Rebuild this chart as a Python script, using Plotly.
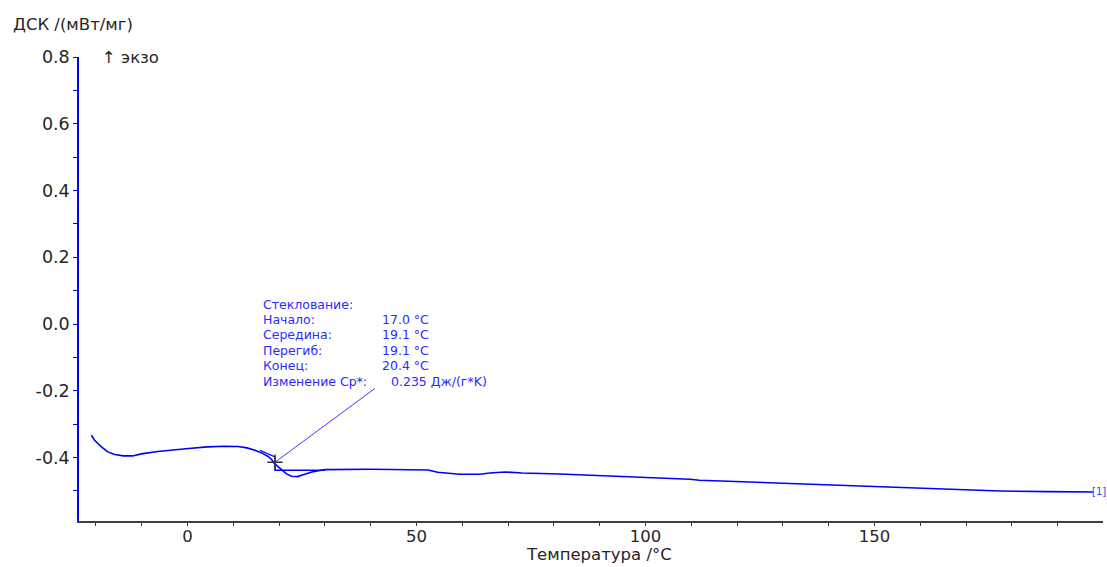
import plotly.graph_objects as go

# ---- data ----
temperature = [-21.0, -20.3, -18.8, -17.4, -15.9, -14.0, -12.0, -10.1, -6.5, -2.8, 0.8, 4.4,
               8.0, 11.0, 13.0, 14.7, 16.2, 17.5, 18.3, 19.0, 19.8, 20.5, 21.6, 22.7,
               24.0, 25.6, 27.5, 29.2, 30.0, 40.0, 50.0, 52.5, 54.6, 57.0, 59.4, 63.8,
               66.0, 69.3, 73.0, 81.3, 87.2, 92.8, 100.9, 109.7, 111.8, 124.3, 137.0,
               147.9, 157.7, 166.5, 177.4, 188.0, 197.7]
dsc = [-0.333, -0.348, -0.368, -0.383, -0.391, -0.395, -0.395, -0.389, -0.382, -0.376,
       -0.372, -0.368, -0.366, -0.367, -0.371, -0.378, -0.386, -0.396, -0.405, -0.418,
       -0.428, -0.438, -0.449, -0.456, -0.457, -0.450, -0.442, -0.438, -0.436, -0.435,
       -0.435, -0.437, -0.444, -0.448, -0.450, -0.450, -0.446, -0.443, -0.446, -0.449,
       -0.452, -0.456, -0.460, -0.465, -0.468, -0.474, -0.481, -0.485, -0.490, -0.496,
       -0.500, -0.502, -0.503]

# glass transition evaluation
tg_onset, tg_mid, tg_inflection, tg_end, delta_cp = 17.0, 19.1, 19.1, 20.4, 0.235
tg_point_dsc = -0.414
tangent_x = [15.8, 19.1, 19.1, 30.0]
tangent_y = [-0.378, -0.398, -0.438, -0.438]
leader_end = (40.9, -0.193)

label_lines = ["Стеклование:", "Начало:", "Середина:", "Перегиб:", "Конец:", "Изменение Cp*:"]
value_lines = ["", f"{tg_onset:.1f} °C", f"{tg_mid:.1f} °C", f"{tg_inflection:.1f} °C",
               f"{tg_end:.1f} °C", f"{delta_cp:.3f} Дж/(г*K)"]

x_tick_vals = [0, 50, 100, 150]
x_tick_text = ["0", "50", "100", "150"]
y_tick_vals = [-0.4, -0.2, 0.0, 0.2, 0.4, 0.6, 0.8]
y_tick_text = ["-0.4", "-0.2", "0.0", "0.2", "0.4", "0.6", "0.8"]

BLUE = "#0000ff"
TXT_BLUE = "#2b2bff"
DARK = "#262626"
FONT = "DejaVu Sans, Verdana, sans-serif"

fig = go.Figure()

fig.add_trace(go.Scatter(x=temperature, y=dsc, mode="lines",
                         line=dict(color=BLUE, width=1.6), hoverinfo="skip"))
# tangent construction
fig.add_trace(go.Scatter(x=tangent_x, y=tangent_y, mode="lines",
                         line=dict(color=BLUE, width=1.3), hoverinfo="skip"))
# leader line
fig.add_trace(go.Scatter(x=[tg_mid, leader_end[0]], y=[tg_point_dsc, leader_end[1]], mode="lines",
                         line=dict(color="#3a3aff", width=1), hoverinfo="skip"))
# cross marker
fig.add_trace(go.Scatter(x=[tg_mid], y=[tg_point_dsc], mode="markers",
                         marker=dict(symbol="cross-thin", size=11,
                                     line=dict(color="#333333", width=1.5)),
                         hoverinfo="skip"))

annotations = []
text_top = 0.060
text_step = 0.0462
for i, (lab, val) in enumerate(zip(label_lines, value_lines)):
    yv = text_top - i * text_step
    annotations.append(dict(x=16.0, y=yv, xref="x", yref="y", text=lab, showarrow=False,
                            xanchor="left", yanchor="middle",
                            font=dict(family=FONT, size=12.5, color=TXT_BLUE)))
    if val:
        annotations.append(dict(x=44.0 if i == len(label_lines) - 1 else 42.1, y=yv,
                                xref="x", yref="y", text=val, showarrow=False,
                                xanchor="left", yanchor="middle",
                                font=dict(family=FONT, size=12.5, color=TXT_BLUE)))

annotations.append(dict(x=temperature[-1], y=dsc[-1], xref="x", yref="y", text="[1]",
                        showarrow=False, xanchor="left", yanchor="middle", xshift=-3,
                        font=dict(family=FONT, size=10, color="#4040ff")))
annotations.append(dict(x=-0.066, y=1.069, xref="paper", yref="paper", text="ДСК /(мВт/мг)",
                        showarrow=False, xanchor="left", yanchor="middle",
                        font=dict(family=FONT, size=16.5, color=DARK)))
annotations.append(dict(x=0.0205, y=1.0, xref="paper", yref="paper", text="↑ экзо",
                        showarrow=False, xanchor="left", yanchor="middle",
                        font=dict(family=FONT, size=16.5, color=DARK)))
annotations.append(dict(x=0.508, y=-0.097, xref="paper", yref="paper", text="Температура /°C",
                        showarrow=False, xanchor="center", yanchor="bottom",
                        font=dict(family=FONT, size=16.5, color=DARK)))

fig.update_layout(
    width=1107, height=567,
    margin=dict(l=79, r=4, t=57, b=46),
    paper_bgcolor="white", plot_bgcolor="white",
    showlegend=False,
    font=dict(family=FONT, size=17, color=DARK),
    annotations=annotations,
    xaxis=dict(range=[-23.7, 199.9], tickmode="array", tickvals=x_tick_vals, ticktext=x_tick_text,
               showgrid=False, zeroline=False, showline=True, linecolor="#404040", linewidth=1.5,
               ticks="outside", ticklen=3, tickcolor="#333333", tickwidth=1.2,
               ticklabelstandoff=-4,
               minor=dict(dtick=10, tick0=0, ticks="outside", ticklen=3, tickcolor="#333333",
                          tickwidth=1.2, showgrid=False),
               tickfont=dict(size=16.5, color=DARK)),
    yaxis=dict(range=[-0.59, 0.8], tickmode="array", tickvals=y_tick_vals, ticktext=y_tick_text,
               showgrid=False, zeroline=False, showline=True, linecolor=BLUE, linewidth=1.5,
               ticks="outside", ticklen=4, tickcolor=BLUE, tickwidth=1.2,
               minor=dict(dtick=0.1, tick0=0, ticks="outside", ticklen=4, tickcolor=BLUE,
                          tickwidth=1.2, showgrid=False),
               tickfont=dict(size=17.5, color=DARK)),
)

fig.write_html("out.html", config={"displayModeBar": False},
               post_script="document.body.style.margin='0';document.body.style.overflow='hidden';")
